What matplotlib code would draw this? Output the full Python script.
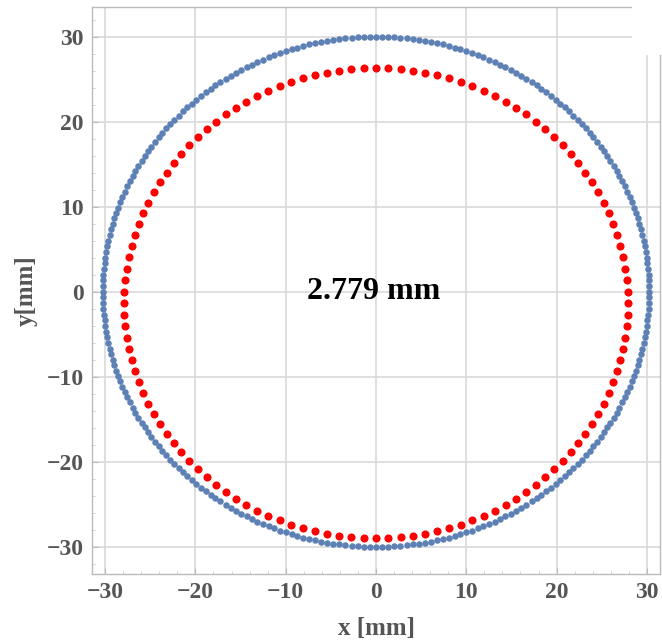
"""
Profil mesuré (rouge) contre cercle nominal (bleu), écart affiché au centre
"""
import numpy as np
import matplotlib.pyplot as plt
import matplotlib.patches as patches

# cercle nominal (bleu)
centre_bleu = (0.0, 0.0)
rayons_bleu = (30.25, 30.0)
nb_points_bleu = 280

# profil mesuré (rouge)
centre_rouge = (0.0, -1.35)
rayons_rouge = (27.9, 27.65)
nb_points_rouge = 128

graduations = [-30, -20, -10, 0, 10, 20, 30]
texte_ecart = "2.779 mm"
label_x = "x [mm]"
label_y = "y[mm]"

BLEU = '#5e81b5'
ROUGE = '#ff0000'
GRIS_TEXTE = '#555555'
GRIS_GRILLE = '#d9d9d9'


def points_ellipse(centre, rayons, n):
    t = np.linspace(0, 2 * np.pi, n, endpoint=False) + np.pi / 2
    return centre[0] + rayons[0] * np.cos(t), centre[1] + rayons[1] * np.sin(t)


plt.rcParams['font.family'] = ['Liberation Serif', 'DejaVu Serif']

fig = plt.figure(figsize=(6.62, 6.40), dpi=100)
ax = fig.add_axes([92 / 662, 1 - 574 / 640, (660 - 92) / 662, (574 - 7) / 640])

# Dessiner les deux séries de points
bx, by = points_ellipse(centre_bleu, rayons_bleu, nb_points_bleu)
ax.scatter(bx, by, s=22, color=BLEU, linewidths=0, zorder=3)
rx, ry = points_ellipse(centre_rouge, rayons_rouge, nb_points_rouge)
ax.scatter(rx, ry, s=34, color=ROUGE, linewidths=0, zorder=4)

# Texte central
ax.text(-0.3, 0.0, texte_ecart, ha='center', va='center', fontsize=23,
        fontweight='bold', color='black', zorder=5)

# Configuration des axes
ax.set_xlim(-31.45, 31.45)
ax.set_ylim(-33.2, 33.5)
ax.set_xticks(graduations)
ax.set_yticks(graduations)
ax.set_xticklabels([str(v).replace('-', '\u2212') for v in graduations])
ax.set_yticklabels([str(v).replace('-', '\u2212') for v in graduations])
ax.set_xticks(np.arange(-30, 31, 2), minor=True)
ax.set_yticks(np.arange(-32, 33, 2), minor=True)
ax.tick_params(which='major', direction='in', length=4, width=0.8,
               color='#bbbbbb', labelsize=17, labelcolor=GRIS_TEXTE, pad=6)
ax.tick_params(which='minor', direction='in', length=2, width=0.6,
               color='#cccccc')
for lab in ax.get_xticklabels() + ax.get_yticklabels():
    lab.set_fontweight('bold')
ax.grid(True, which='major', color=GRIS_GRILLE, linewidth=1.2)
ax.set_axisbelow(True)
for sp in ax.spines.values():
    sp.set_color('#bbbbbb')
    sp.set_linewidth(1.0)

ax.set_xlabel(label_x, fontsize=18, fontweight='bold', color=GRIS_TEXTE, labelpad=10)
ax.set_ylabel(label_y, fontsize=18, fontweight='bold', color=GRIS_TEXTE, labelpad=6)

# coin haut droit masqué comme dans l'image d'origine
fig.patches.append(patches.Rectangle((632 / 662, 1 - 55 / 640), 30 / 662, 55 / 640,
                                     transform=fig.transFigure, facecolor='white',
                                     edgecolor='none', zorder=10))

fig.savefig('out.png', dpi=100)
